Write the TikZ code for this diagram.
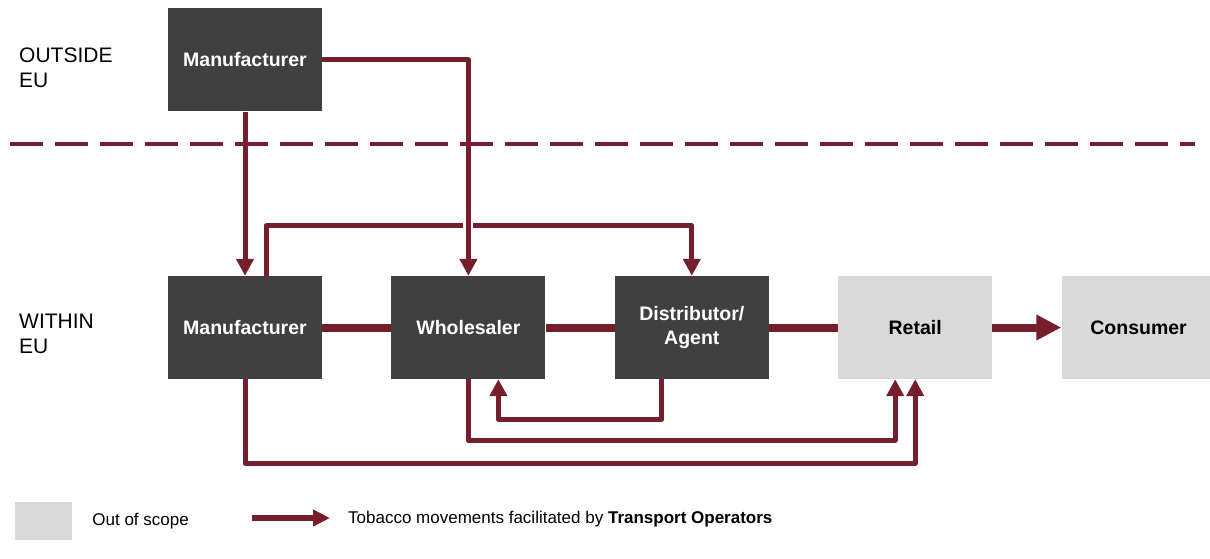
\documentclass[tikz,border=0pt]{standalone}
\usepackage{fontspec}
\setmainfont{Liberation Sans}
\usetikzlibrary{arrows.meta,positioning}
\definecolor{flowred}{RGB}{116,31,43}
\definecolor{boxdark}{RGB}{64,64,64}
\definecolor{boxlight}{RGB}{217,217,217}

\begin{document}
\begin{tikzpicture}[x=1pt,y=1pt,node distance=69pt,line join=round]
 \tikzstyle{actor}=[fill=boxdark,text=white,font=\fontsize{19.5}{23.5}\selectfont\bfseries,minimum width=154pt,minimum height=103pt,inner sep=0pt,align=center]
 \tikzstyle{outscope}=[actor,fill=boxlight,text=black]
 \tikzstyle{region}=[font=\fontsize{21}{25}\selectfont,align=left,anchor=west,inner sep=0pt]
 \tikzstyle{keytext}=[font=\fontsize{17}{20}\selectfont,anchor=west,inner sep=0pt]
 \tikzstyle{flow}=[draw=flowred,line width=5pt,-{Triangle[length=17pt,width=17pt]}]
 \tikzstyle{link}=[draw=flowred,line width=8pt]
 \tikzstyle{bigflow}=[link,-{Triangle[length=25pt,width=24pt]}]

   \useasboundingbox (0,0) rectangle (1210,-559);

   % outside EU
   \node[region] (outside) at (19,-68) {OUTSIDE\\EU};
   \node[actor] (mfrout) at (245,-60) {Manufacturer};

   % within EU
   \node[region] (within) at (19,-334) {WITHIN\\EU};
   \node[actor] (mfr) at (245,-327.5) {Manufacturer};
   \node[actor] (whs) [right=of mfr] {Wholesaler};
   \node[actor] (dist) [right=of whs] {Distributor/\\Agent};
   \node[outscope] (retail) [right=of dist] {Retail};
   \node[outscope] (cons) [right=of retail] {Consumer};

   \draw[link] (mfr) -- (whs);
   \draw[link] (whs) -- (dist);
   \draw[link] (dist) -- (retail);
   \draw[bigflow] (retail) -- (cons);

   \draw[flow] ([xshift=21pt]mfr.north) -- ++(0,50) -| (dist.north);
   \draw[flow] (mfrout.south) -- (mfr.north);
   \draw[flow,preaction={draw=white,line width=10pt,arrows=-}] (mfrout.east) -| (whs.north);
   \draw[flow] ([xshift=-30pt]dist.south) -- ++(0,-40) -| ([xshift=30pt]whs.south);
   \draw[flow] (whs.south) -- ++(0,-61) -| ([xshift=-20pt]retail.south);
   \draw[flow] (mfr.south) -- ++(0,-84) -| (retail.south);

   % border line
   \coordinate (sepL) at (10,-144);
   \coordinate (sepR) at (1195,-144);
   \draw[flowred,line width=4.5pt,dash pattern=on 33pt off 12pt] (sepL) -- (sepR);

   % key
   \node[outscope,minimum width=57pt,minimum height=38pt] (keybox) at (43.5,-521) {};
   \node[keytext] (keyscope) [right=20pt of keybox] {Out of scope};
   \coordinate (keyA) at (252,-518);
   \coordinate (keyB) at (330,-518);
   \draw[flowred,line width=6pt,-{Triangle[length=17pt,width=16pt]}] (keyA) -- (keyB);
   \node[keytext] (keymove) at (348,-519) {Tobacco movements facilitated by \textbf{Transport Operators}};

\end{tikzpicture}
\end{document}
